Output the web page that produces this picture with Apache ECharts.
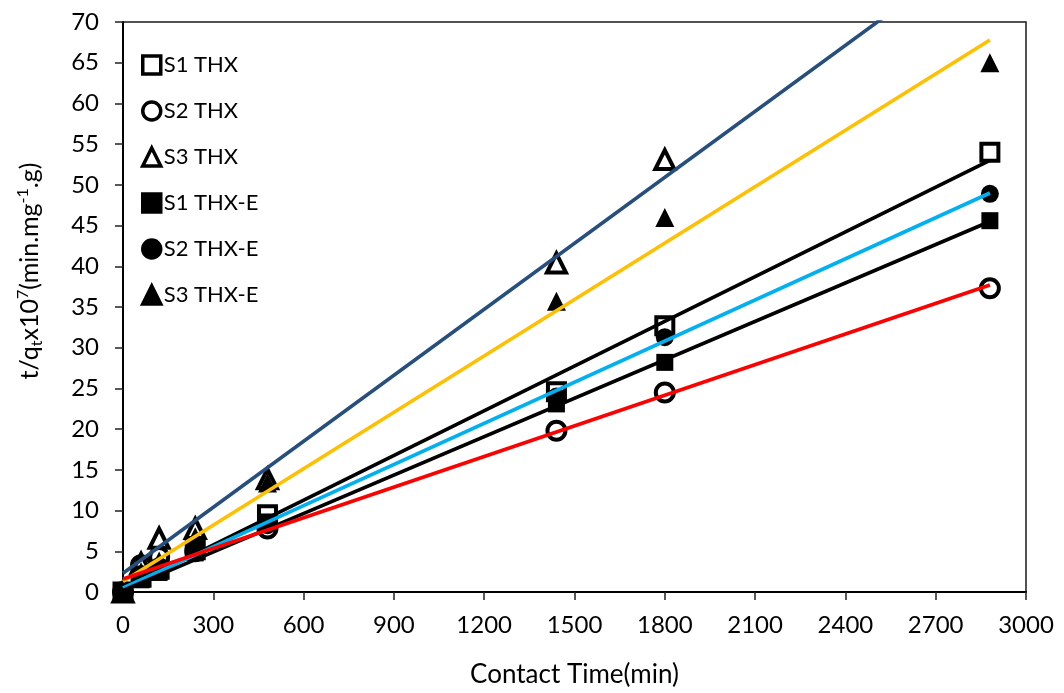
<!DOCTYPE html>
<html>
<head>
<meta charset="utf-8">
<script src="https://cdn.jsdelivr.net/npm/echarts@6/dist/echarts.min.js"></script>
<style>
  html, body { margin: 0; padding: 0; background: #fff; }
  #chart { width: 1064px; height: 693px; }
</style>
</head>
<body>
<div id="chart"></div>
<script>
// Pseudo-second-order kinetics: t/qt versus contact time
const timeMin = [0, 60, 120, 240, 480, 1440, 1800, 2880];

const s1THX  = [0, 1.8, 2.8, 5.2, 9.5, 24.6, 32.7, 54.0];
const s2THX  = [0, 3.3, 4.3, 5.0, 7.8, 19.8, 24.5, 37.3];
const s3THX  = [0, 3.5, 6.6, 7.8, 13.9, 40.4, 53.1, null];
const s1THXE = [0, 1.5, 2.4, 4.8, 8.6, 23.1, 28.2, 45.6];
const s2THXE = [0, 2.2, 3.2, 5.6, 8.2, 24.0, 31.3, 48.9];
const s3THXE = [0, 2.5, 3.8, 6.8, 13.4, 35.7, 46.0, 65.0];

// Linear fit lines, value at the first and last time
const fitTimes  = [0, 2880];
const fitS1THX  = [0.3, 53.0];
const fitS2THX  = [1.6, 37.7];
const fitS3THX  = [2.3, 80.1];
const fitS1THXE = [0.2, 45.5];
const fitS2THXE = [0.5, 49.0];
const fitS3THXE = [1.3, 67.8];

const seriesNames = ['S1 THX', 'S2 THX', 'S3 THX', 'S1 THX-E', 'S2 THX-E', 'S3 THX-E'];

const FONT = 'Lato, "Liberation Sans", sans-serif';

function pairs(xs, ys) {
  const out = [];
  xs.forEach((x, i) => { if (ys[i] !== null) out.push([x, ys[i]]); });
  return out;
}

function scatter(name, values, symbol, filled, z) {
  return {
    name: name,
    type: 'scatter',
    data: pairs(timeMin, values),
    symbol: symbol,
    symbolSize: symbol === 'triangle' ? 19 : (symbol === 'rect' ? 17 : 18),
    z: z,
    clip: false,
    itemStyle: filled
      ? { color: '#000', borderColor: '#000', borderWidth: 0, opacity: 1 }
      : { color: '#fff', borderColor: '#000', borderWidth: 4, opacity: 1 }
  };
}

function fitLine(values, color) {
  return {
    type: 'line',
    data: pairs(fitTimes, values),
    symbol: 'none',
    silent: true,
    z: 5,
    clip: true,
    lineStyle: { color: color, width: 3.6 }
  };
}

const chart = echarts.init(document.getElementById('chart'), null, { renderer: 'canvas' });

chart.setOption({
  animation: false,
  backgroundColor: '#fff',
  grid: {
    left: 123, right: 38, top: 22, bottom: 100,
    show: true, borderColor: '#1a1a1a', borderWidth: 1.5, backgroundColor: 'transparent'
  },
  legend: {
    data: seriesNames,
    orient: 'vertical',
    left: 136,
    top: 48,
    itemWidth: 18,
    itemHeight: 18,
    itemGap: 22,
    selectedMode: false,
    itemStyle: { borderWidth: 3.5 },
    textStyle: { fontFamily: FONT, fontSize: 22, color: '#000', lineHeight: 24, padding: [0, 0, 0, -2] }
  },
  xAxis: {
    type: 'value',
    min: 0, max: 3000, interval: 300,
    name: 'Contact Time(min)',
    nameLocation: 'middle',
    nameGap: 70,
    nameTextStyle: { fontFamily: FONT, fontSize: 26, color: '#000' },
    axisLine: { show: true, onZero: false, lineStyle: { color: '#000', width: 2 } },
    axisTick: { show: true, length: 8, lineStyle: { color: '#222', width: 1.5 } },
    axisLabel: { fontFamily: FONT, fontSize: 24, color: '#000', margin: 21, formatter: v => String(v) },
    splitLine: { show: false }
  },
  yAxis: {
    type: 'value',
    min: 0, max: 70, interval: 5,
    axisLine: { show: true, onZero: false, lineStyle: { color: '#000', width: 2 } },
    axisTick: { show: true, length: 8, lineStyle: { color: '#222', width: 1.5 } },
    axisLabel: { fontFamily: FONT, fontSize: 24, color: '#000', margin: 24, formatter: v => String(v) },
    splitLine: { show: false }
  },
  graphic: [{
    type: 'text',
    x: 30,
    y: 271,
    rotation: Math.PI / 2,
    style: {
      text: '{b|t/q}{sub|t}{b|x10}{sup|7}{b|(min.mg}{sup|-1}{b|.g)}',
      align: 'center',
      verticalAlign: 'middle',
      fill: '#000',
      rich: {
        b:   { fontFamily: FONT, fontSize: 25, lineHeight: 34, verticalAlign: 'middle', fill: '#000' },
        sub: { fontFamily: FONT, fontSize: 16, lineHeight: 34, verticalAlign: 'bottom', fill: '#000', padding: [0, 0, 2, 0] },
        sup: { fontFamily: FONT, fontSize: 16, lineHeight: 34, verticalAlign: 'top', fill: '#000', padding: [2, 0, 0, 0] }
      }
    }
  }],
  series: [
    scatter('S1 THX', s1THX, 'rect', false, 2),
    scatter('S2 THX', s2THX, 'circle', false, 2),
    scatter('S3 THX', s3THX, 'triangle', false, 2),
    scatter('S2 THX-E', s2THXE, 'circle', true, 2),
    scatter('S3 THX-E', s3THXE, 'triangle', true, 2),
    scatter('S1 THX-E', s1THXE, 'rect', true, 3),
    fitLine(fitS3THX, '#264F7D'),
    fitLine(fitS3THXE, '#FFC000'),
    fitLine(fitS1THX, '#000000'),
    fitLine(fitS2THXE, '#00B0F0'),
    fitLine(fitS1THXE, '#000000'),
    fitLine(fitS2THX, '#FF0000')
  ]
});
</script>
</body>
</html>
